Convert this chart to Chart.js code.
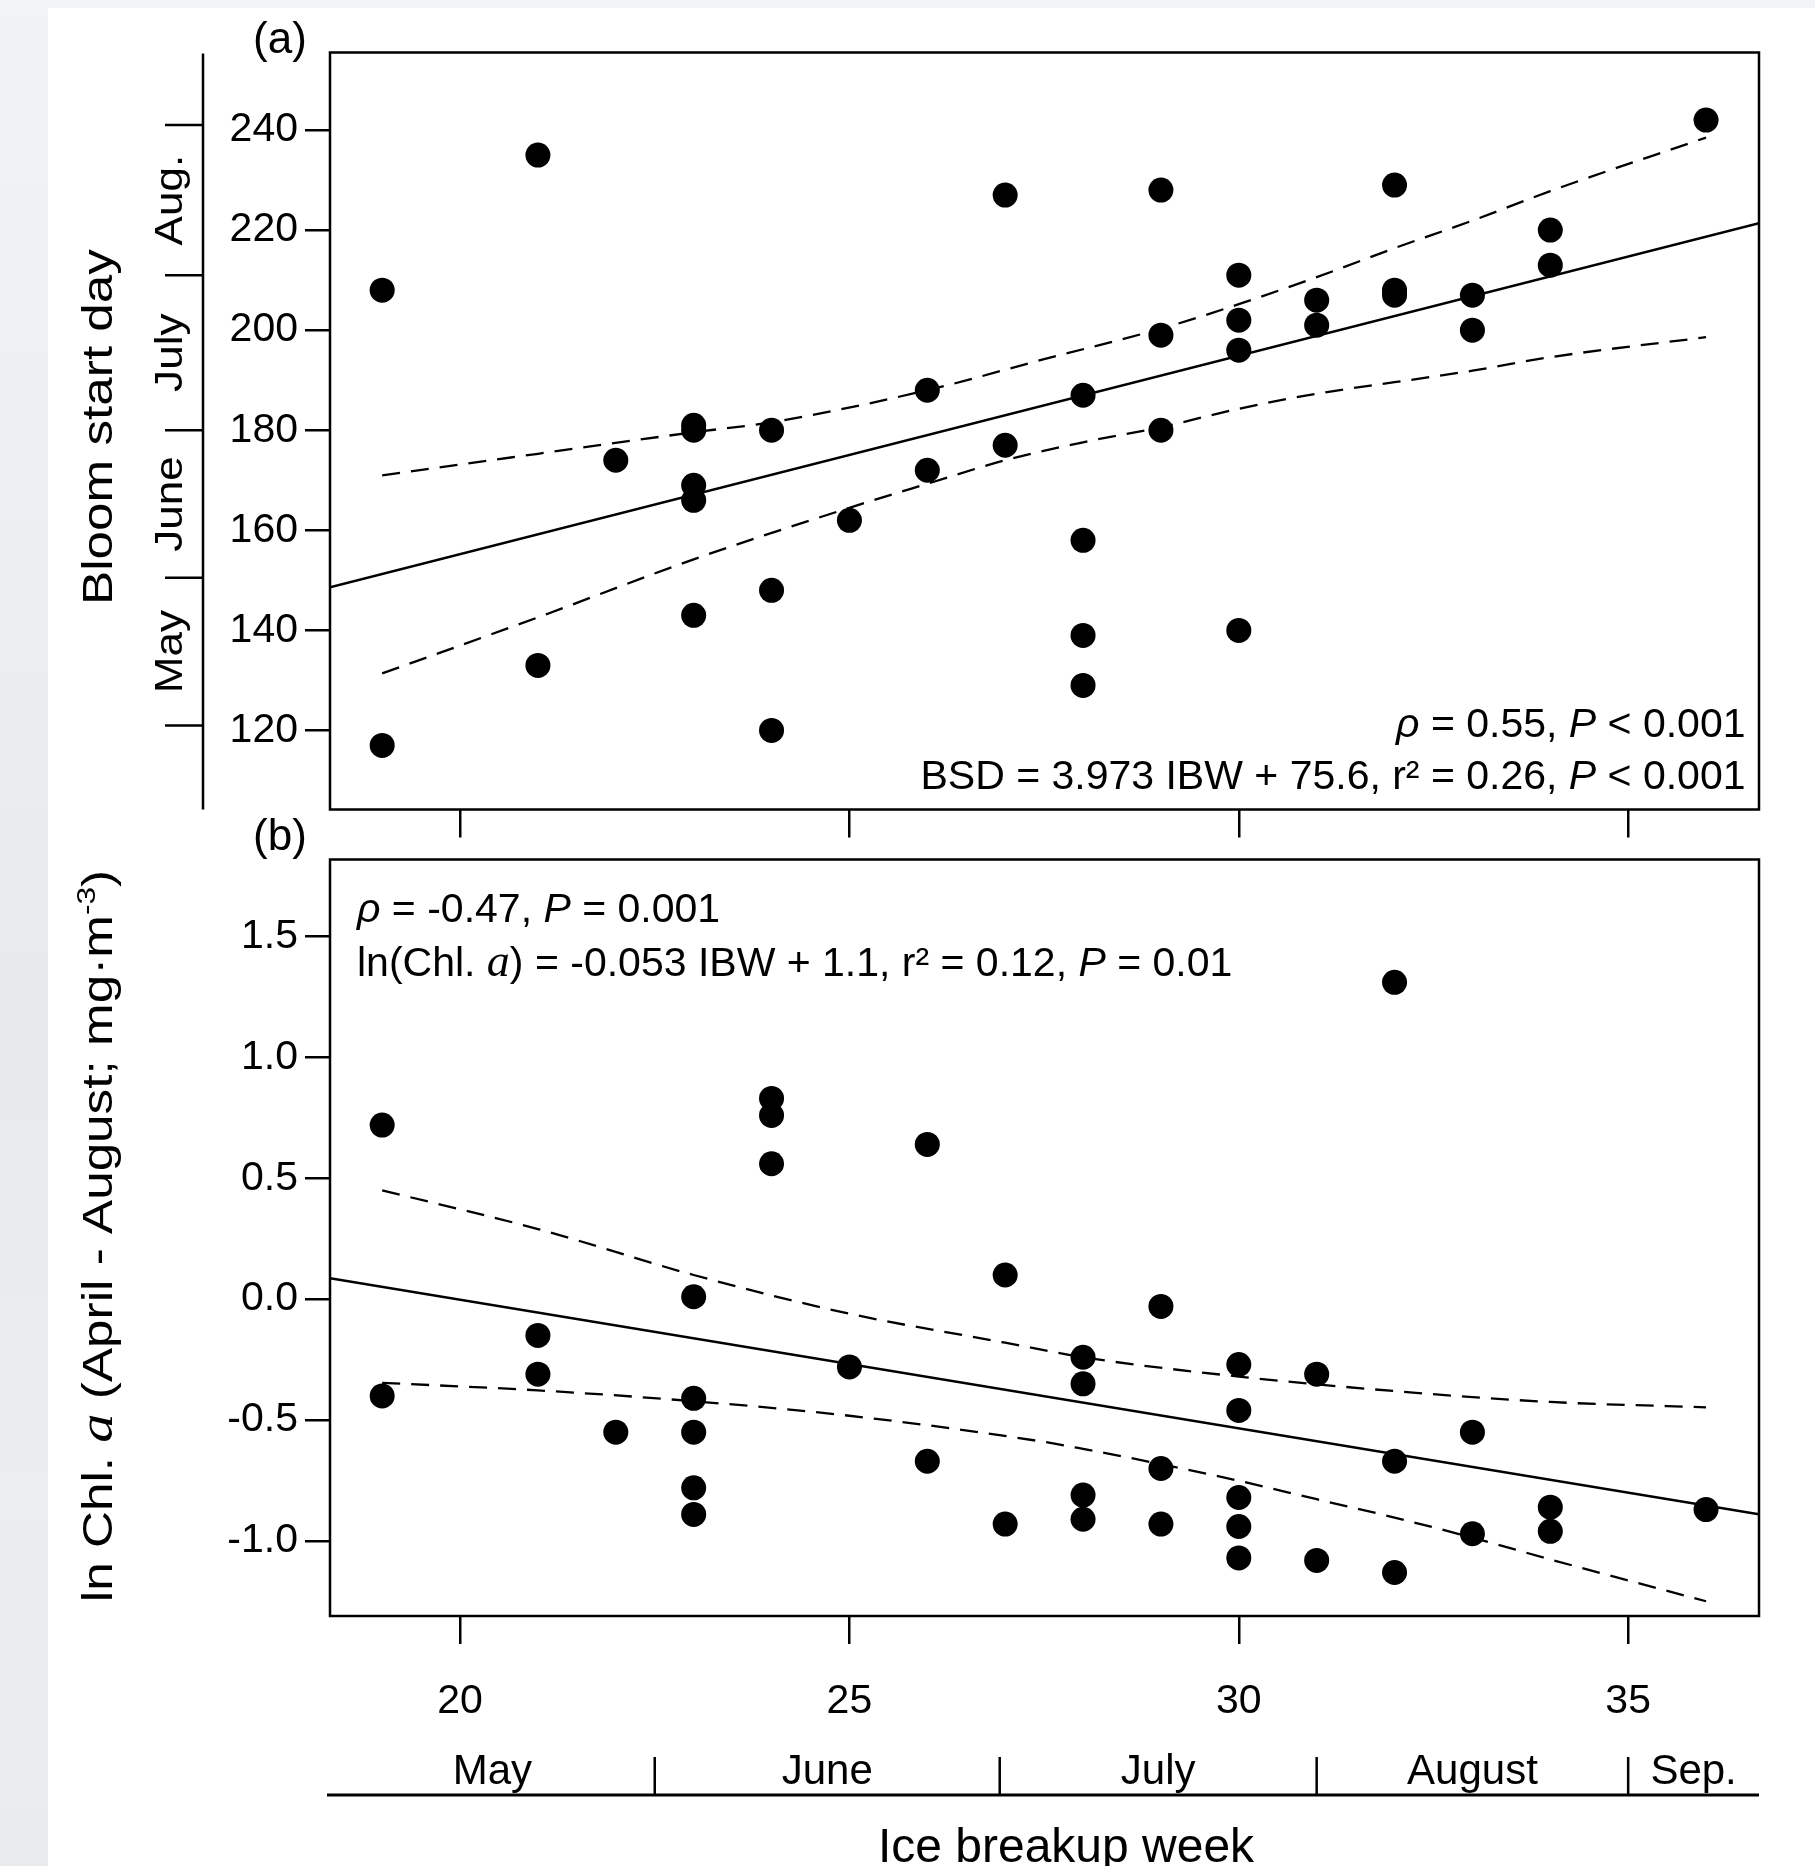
<!DOCTYPE html>
<html>
<head>
<meta charset="utf-8">
<script src="https://cdn.jsdelivr.net/npm/chart.js@4.4.1/dist/chart.umd.min.js"></script>
<style>
  html, body { margin: 0; padding: 0; }
  body {
    width: 1815px; height: 1866px; overflow: hidden; position: relative;
    background: linear-gradient(to bottom, #f1f3f4 0%, #eceff1 30%, #e6eaed 55%, #ebeef0 80%, #e9ecee 100%);
  }
  #paper { position: absolute; left: 48px; top: 8px; right: 0; bottom: 0; background: #fff; }
  canvas { position: absolute; left: 0; }
  #chartA { top: 0; }
  #chartB { top: 800px; }
</style>
</head>
<body>
<div id="paper"></div>
<canvas id="chartA" width="1815" height="850"></canvas>
<canvas id="chartB" width="1815" height="1066"></canvas>
<script>
// ---- data ----
// panel (a): bloom start day vs ice breakup week
const weeksA = [19, 19, 21, 21, 22, 23, 23, 23, 23, 23, 24, 24, 24, 25, 26, 26, 27, 27, 28, 28, 28, 28,
    29, 29, 29, 30, 30, 30, 30, 31, 31, 32, 32, 32, 33, 33, 34, 34, 36];
const bloomDay = [208, 117, 235, 133, 174, 181, 180, 169, 166, 143, 180, 148, 120, 162, 188, 172, 227, 177,
    187, 158, 139, 129, 228, 199, 180, 211, 202, 196, 140, 206, 201, 229, 208, 207, 207, 200, 220, 213, 242];

// regression line and confidence band of panel (a)
const fitWeeksA = [18.33, 36.68];
const fitDayA = [148.6, 221.4];
const upperWeeksA = [19, 21, 23, 24, 26, 27.5, 29, 30, 31, 32, 33, 34, 36];
const upperDayA = [171.0, 175.3, 179.6, 181.6, 188.0, 194.2, 200.3, 205.2, 210.6, 216.4, 221.9, 227.8, 238.5];
const lowerWeeksA = [19, 21, 23, 25, 26, 27, 28, 29, 30, 31, 32, 33, 34, 36];
const lowerDayA = [131.4, 142.6, 154.2, 164.5, 169.3, 174.0, 177.6, 180.6, 184.3, 187.3, 189.6, 191.9, 194.6, 198.6];

// panel (b): ln chl a vs ice breakup week
const weeksB = [19, 19, 21, 21, 22, 23, 23, 23, 23, 23, 24, 24, 24, 25, 26, 26, 27, 27, 28, 28, 28, 28,
    29, 29, 29, 30, 30, 30, 30, 30, 31, 31, 32, 32, 32, 33, 33, 34, 34, 36];
const lnChl = [0.72, -0.40, -0.15, -0.31, -0.55, 0.01, -0.41, -0.55, -0.78, -0.89, 0.83, 0.76, 0.56, -0.28,
    0.64, -0.67, 0.10, -0.93, -0.24, -0.35, -0.81, -0.91, -0.03, -0.70, -0.93, -0.27, -0.46, -0.82, -0.94, -1.07,
    -0.31, -1.08, 1.31, -0.67, -1.13, -0.55, -0.97, -0.86, -0.96, -0.87];

const fitWeeksB = [18.33, 36.68];
const fitChlB = [0.087, -0.889];
const upperWeeksB = [19, 21, 23, 25, 27, 28, 30, 32, 34, 36];
const upperChlB = [0.45, 0.29, 0.10, -0.06, -0.18, -0.24, -0.32, -0.38, -0.425, -0.447];
const lowerWeeksB = [19, 21, 23, 25, 27.5, 28, 29, 30, 31, 32, 33, 34, 36];
const lowerChlB = [-0.346, -0.377, -0.422, -0.482, -0.59, -0.619, -0.682, -0.751, -0.827, -0.903, -0.986, -1.076, -1.249];

// axes
const weekTicks = [20, 25, 30, 35];
const dayTicks = [120, 140, 160, 180, 200, 220, 240];
const chlTicks = [-1.0, -0.5, 0.0, 0.5, 1.0, 1.5];
const weekMin = 18.33, weekMax = 36.68;
const dayMin = 104.2, dayMax = 255.5;
const chlMin = -1.31, chlMax = 1.818;

// month brackets
const monthEdgesDay = [121, 150.5, 180, 211, 241];
const monthNamesDay = ['May', 'June', 'July', 'Aug.'];
const monthEdgesWeek = [22.5, 26.93, 31, 35];
const monthNamesWeek = ['May', 'June', 'July', 'August', 'Sep.'];

const sans = "'Liberation Sans', Arial, sans-serif";
const serif = "'Liberation Serif', 'Times New Roman', serif";

function toPoints(xs, ys) {
    return xs.map((v, i) => ({ x: v, y: ys[i] }));
}

// draws a row of text pieces with their own fonts
function drawRuns(ctx, runs, x, y, align) {
    let w = 0;
    runs.forEach(r => { ctx.font = r.f; w += ctx.measureText(r.t).width; });
    let cx = align === 'right' ? x - w : (align === 'center' ? x - w / 2 : x);
    ctx.textAlign = 'left';
    ctx.textBaseline = 'alphabetic';
    runs.forEach(r => {
        ctx.font = r.f;
        ctx.fillText(r.t, cx, y + (r.dy || 0));
        cx += ctx.measureText(r.t).width;
    });
}

function drawVertical(ctx, runs, x, y, stretch) {
    ctx.save();
    ctx.translate(x, y);
    ctx.rotate(-Math.PI / 2);
    ctx.scale(stretch, 1);
    drawRuns(ctx, runs, 0, 0, 'center');
    ctx.restore();
}

function frame(chart) {
    const a = chart.chartArea;
    const ctx = chart.ctx;
    ctx.strokeStyle = '#000';
    ctx.lineWidth = 2.5;
    ctx.strokeRect(a.left, a.top, a.right - a.left, a.bottom - a.top);
}

function lineSet(data, dashed) {
    return {
        data: data,
        showLine: true,
        pointRadius: 0,
        borderColor: '#000',
        borderWidth: dashed ? 2.3 : 2.5,
        borderDash: dashed ? [18, 11] : [],
        cubicInterpolationMode: 'monotone',
        fill: false
    };
}

function dotSet(data) {
    return {
        data: data,
        pointRadius: 12.5,
        pointHoverRadius: 12.5,
        pointBackgroundColor: '#000',
        pointBorderWidth: 0,
        showLine: false
    };
}

function gridOpts(len) {
    return { drawOnChartArea: false, drawTicks: true, tickLength: len, color: '#000', lineWidth: 2.5 };
}

const panelA = {
    id: 'panelA',
    afterDraw(chart) {
        const ctx = chart.ctx;
        const a = chart.chartArea;
        const y = chart.scales.y;
        ctx.save();
        frame(chart);
        ctx.fillStyle = '#000';

        // month bracket axis on the left
        const ax = 203;
        ctx.lineWidth = 2.5;
        ctx.beginPath();
        ctx.moveTo(ax, a.top + 1);
        ctx.lineTo(ax, a.bottom);
        monthEdgesDay.forEach(d => {
            const py = y.getPixelForValue(d);
            ctx.moveTo(ax - 38, py);
            ctx.lineTo(ax, py);
        });
        ctx.stroke();
        monthNamesDay.forEach((m, i) => {
            const py = (y.getPixelForValue(monthEdgesDay[i]) + y.getPixelForValue(monthEdgesDay[i + 1])) / 2;
            drawVertical(ctx, [{ t: m, f: '38px ' + sans }], 182, py, 1.16);
        });

        drawVertical(ctx, [{ t: 'Bloom start day', f: '42px ' + sans }], 112, 427, 1.22);
        drawRuns(ctx, [{ t: '(a)', f: '44px ' + sans }], 280, 53, 'center');

        drawRuns(ctx, [
            { t: 'ρ', f: 'italic 41px ' + sans },
            { t: ' = 0.55, ', f: '41px ' + sans },
            { t: 'P', f: 'italic 41px ' + sans },
            { t: ' < 0.001', f: '41px ' + sans }
        ], 1745.5, 737, 'right');
        drawRuns(ctx, [
            { t: 'BSD = 3.973 IBW + 75.6, r² = 0.26, ', f: '41px ' + sans },
            { t: 'P', f: 'italic 41px ' + sans },
            { t: ' < 0.001', f: '41px ' + sans }
        ], 1745.5, 789, 'right');
        ctx.restore();
    }
};

const panelB = {
    id: 'panelB',
    afterDraw(chart) {
        const ctx = chart.ctx;
        const a = chart.chartArea;
        const x = chart.scales.x;
        ctx.save();
        frame(chart);
        ctx.fillStyle = '#000';

        // month bracket axis under the week axis
        const by = 995;
        ctx.lineWidth = 3;
        ctx.beginPath();
        ctx.moveTo(a.left - 3, by);
        ctx.lineTo(a.right, by);
        ctx.stroke();
        ctx.lineWidth = 2.5;
        ctx.beginPath();
        monthEdgesWeek.forEach(w => {
            const px = x.getPixelForValue(w);
            ctx.moveTo(px, by - 38);
            ctx.lineTo(px, by);
        });
        ctx.stroke();
        const edges = [weekMin].concat(monthEdgesWeek, [weekMax]);
        monthNamesWeek.forEach((m, i) => {
            const px = (x.getPixelForValue(edges[i]) + x.getPixelForValue(edges[i + 1])) / 2;
            drawRuns(ctx, [{ t: m, f: '42px ' + sans }], px, 984, 'center');
        });

        drawRuns(ctx, [{ t: 'Ice breakup week', f: '48px ' + sans }], 1066, 1062, 'center');
        drawVertical(ctx, [
            { t: 'ln Chl. ', f: '42px ' + sans },
            { t: 'a', f: 'italic 48px ' + serif },
            { t: ' (April - August; mg·m', f: '42px ' + sans },
            { t: '-3', f: '26px ' + sans, dy: -17 },
            { t: ')', f: '42px ' + sans }
        ], 112, 436, 1.22);
        drawRuns(ctx, [{ t: '(b)', f: '44px ' + sans }], 280, 50, 'center');

        drawRuns(ctx, [
            { t: 'ρ', f: 'italic 41px ' + sans },
            { t: ' = -0.47, ', f: '41px ' + sans },
            { t: 'P', f: 'italic 41px ' + sans },
            { t: ' = 0.001', f: '41px ' + sans }
        ], 357, 122, 'left');
        drawRuns(ctx, [
            { t: 'ln(Chl. ', f: '41px ' + sans },
            { t: 'a', f: 'italic 46px ' + serif },
            { t: ') = -0.053 IBW + 1.1, r² = 0.12, ', f: '41px ' + sans },
            { t: 'P', f: 'italic 41px ' + sans },
            { t: ' = 0.01', f: '41px ' + sans }
        ], 357, 176, 'left');
        ctx.restore();
    }
};

Chart.defaults.font.family = sans;
Chart.defaults.color = '#000';

// panel (a)
new Chart(document.getElementById('chartA'), {
    type: 'scatter',
    data: {
        datasets: [
            dotSet(toPoints(weeksA, bloomDay)),
            lineSet(toPoints(fitWeeksA, fitDayA), false),
            lineSet(toPoints(upperWeeksA, upperDayA), true),
            lineSet(toPoints(lowerWeeksA, lowerDayA), true)
        ]
    },
    options: {
        responsive: false,
        animation: false,
        devicePixelRatio: 1,
        layout: { autoPadding: false, padding: { left: 0, right: 56, top: 52.5, bottom: 0 } },
        plugins: { legend: { display: false }, tooltip: { enabled: false } },
        scales: {
            x: {
                type: 'linear', min: weekMin, max: weekMax,
                afterBuildTicks: s => { s.ticks = weekTicks.map(v => ({ value: v })); },
                afterFit: s => { s.height = 40.5; },
                grid: gridOpts(28),
                border: { display: false },
                ticks: { display: false }
            },
            y: {
                type: 'linear', min: dayMin, max: dayMax,
                afterBuildTicks: s => { s.ticks = dayTicks.map(v => ({ value: v })); },
                afterFit: s => { s.width = 330; },
                grid: gridOpts(25),
                border: { display: false },
                ticks: { font: { size: 41 }, color: '#000', padding: 7 }
            }
        }
    },
    plugins: [panelA]
});

// panel (b)
new Chart(document.getElementById('chartB'), {
    type: 'scatter',
    data: {
        datasets: [
            dotSet(toPoints(weeksB, lnChl)),
            lineSet(toPoints(fitWeeksB, fitChlB), false),
            lineSet(toPoints(upperWeeksB, upperChlB), true),
            lineSet(toPoints(lowerWeeksB, lowerChlB), true)
        ]
    },
    options: {
        responsive: false,
        animation: false,
        devicePixelRatio: 1,
        layout: { autoPadding: false, padding: { left: 0, right: 56, top: 59.5, bottom: 0 } },
        plugins: { legend: { display: false }, tooltip: { enabled: false } },
        scales: {
            x: {
                type: 'linear', min: weekMin, max: weekMax,
                afterBuildTicks: s => { s.ticks = weekTicks.map(v => ({ value: v })); },
                afterFit: s => { s.height = 250; },
                grid: gridOpts(28),
                border: { display: false },
                ticks: { font: { size: 41 }, color: '#000', padding: 33, autoSkip: false, maxRotation: 0 }
            },
            y: {
                type: 'linear', min: chlMin, max: chlMax,
                afterBuildTicks: s => { s.ticks = chlTicks.map(v => ({ value: v })); },
                afterFit: s => { s.width = 330; },
                grid: gridOpts(25),
                border: { display: false },
                ticks: { font: { size: 41 }, color: '#000', padding: 7, callback: v => v.toFixed(1) }
            }
        }
    },
    plugins: [panelB]
});
</script>
</body>
</html>
